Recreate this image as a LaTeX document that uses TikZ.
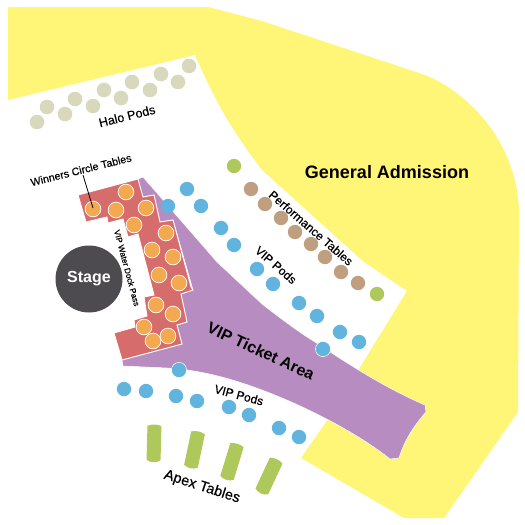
\documentclass[tikz,border=0pt]{standalone}
\usepackage{fontspec}
\setmainfont{Liberation Sans}
\newfontfamily\semib[FakeBold=0.45]{Liberation Sans}
\definecolor{gayellow}{HTML}{FFF576}
\definecolor{tktpurple}{HTML}{B78CC0}
\definecolor{wcred}{HTML}{D76C6C}
\definecolor{wcorange}{HTML}{F2A950}
\definecolor{podblue}{HTML}{60B4DE}
\definecolor{apexgreen}{HTML}{AEC85B}
\definecolor{perfbrown}{HTML}{BF9F80}
\definecolor{halotan}{HTML}{D8D8BC}
\definecolor{stagegrey}{HTML}{4E4B50}
\tikzset{
  lbl/.style={inner sep=0pt,text=black},
}
\newcommand{\fs}[1]{\fontsize{#1}{#1}\selectfont}
\newcommand{\apexbar}[3]{%
  \begin{scope}[shift={(#1,#2)},rotate=#3]
    \fill[apexgreen] (-7,-17) .. controls (-3,-19) and (3,-19) .. (7,-17)
      -- (7,17) .. controls (3,20) and (-3,20) .. (-7,17) -- cycle;
  \end{scope}}
\begin{document}
\begin{tikzpicture}[x=1pt,y=-1pt]
\useasboundingbox (0,0) rectangle (525,525);
% General Admission area
\fill[gayellow] (8,7) -- (208,7) -- (262,21) -- (425,75)
  .. controls (470,93) and (519,145) .. (519,215)
  -- (518,412) -- (444,518) -- (404,518) -- (301,458) -- (345,395) -- (359,369)
  -- (407,291) -- (364,262) -- (262,170)
  .. controls (228,125) and (215,100) .. (195,55) -- (8,100) -- cycle;
% VIP Ticket Area
\fill[tktpurple,draw=white,line width=0.5pt] (143,177) -- (217,262) -- (262,304)
  .. controls (280,318) and (300,333) .. (315,342)
  .. controls (345,362) and (385,388) .. (425,405)
  -- (426,412) .. controls (412,428) and (404,442) .. (399,458)
  -- (390,459) .. controls (360,435) and (310,408) .. (262,390)
  .. controls (230,378) and (200,370) .. (167,368)
  -- (123,366) -- (122,360) -- (182,344) -- (177,325) -- (187,322) -- (181,294)
  -- (193,290) -- (173,220) -- (160,222) -- (154,195) -- (143,197) -- (136,180) -- cycle;
% Winners Circle block
\fill[wcred,draw=white,line width=0.9pt] (78,195) -- (138,179) -- (143,197) -- (154,195)
  -- (160,222) -- (173,220) -- (191,287) -- (193,290) -- (181,294) -- (187,322)
  -- (177,325) -- (182,344) -- (122,360) -- (114,333) -- (135,327) -- (134,320)
  -- (147,316) -- (144,297) -- (154,295) -- (138,234) -- (128,237) -- (123,219)
  -- (108,223) -- (107,217) -- (86,222) -- cycle;
% Winners tables
\foreach \x/\y in {93/209,116/210,126/192,146/208,134/225,166/233,152/250,173/257,
  159/275,179/283,156/305,173/314,144/327,168/336,153/341}
  \fill[wcorange,draw=white,line width=0.7pt] (\x,\y) circle[radius=7.9];
% Leader
\coordinate (leaderEnd) at (93,208);
\node[lbl,rotate=14,font=\fs{10.7}\semib] (winners) at (81,170) {Winners Circle Tables};
\draw[black,line width=0.8pt] (83,175) -- (leaderEnd);
% Stage
\node[circle,fill=stagegrey,inner sep=0pt,minimum size=67pt,text=white,font=\fs{16}\bfseries] (stage) at (89,279) {Stage};
% Halo pods
\foreach \x/\y in {37/122,47/107,65/114,75/99,93/106,104/90,121/98,132/82,150/90,161/74,178/82,189/66}
  \fill[halotan] (\x,\y) circle[radius=7.3];
% Blue pods
\foreach \x/\y in {168/206,187/189,201/206,221/228,234/245,257/269,273/284,299/303,317/316,340/332,359/342,
  124/389,146/391,176/396,197/401,229/407,249/415,279/428,299/437}
  \fill[podblue] (\x,\y) circle[radius=7.2];
\foreach \x/\y in {323/349,179/370}
  \fill[podblue,draw=white,line width=0.5pt] (\x,\y) circle[radius=7.6];
% Performance tables
\foreach \x/\y in {251/189,265/204,281/218,295/232,311/244,325/257,341/272,358/283}
  \fill[perfbrown] (\x,\y) circle[radius=7.2];
\foreach \x/\y in {234/166,377/294}
  \fill[apexgreen] (\x,\y) circle[radius=7.2];
% Apex tables
\apexbar{154}{443}{-1.5}
\apexbar{194.5}{449.5}{-12}
\apexbar{232}{461.5}{-17}
\apexbar{269}{476}{-25}
% Labels
\node[lbl,font=\fs{18}\bfseries] (ga) at (387,172) {General Admission};
\node[lbl,rotate=14,font=\fs{12.5}\semib] (halo) at (127,116) {Halo Pods};
\node[lbl,rotate=-75,font=\fs{8.2}\semib] (dock) at (127,268) {VIP Water Dock Pass};
\node[lbl,rotate=-41,font=\fs{12}\semib] (perf) at (311,228) {Performance Tables};
\node[lbl,rotate=-41,font=\fs{12}\semib] (vip1) at (276,265) {VIP Pods};
\node[lbl,rotate=-25,font=\fs{16}\bfseries] (ticket) at (261,351) {VIP Ticket Area};
\node[lbl,rotate=-15,font=\fs{12}\semib] (vip2) at (239,395) {VIP Pods};
\node[lbl,rotate=-18,font=\fs{14.5}\semib] (apex) at (202,487) {Apex Tables};
\end{tikzpicture}
\end{document}
